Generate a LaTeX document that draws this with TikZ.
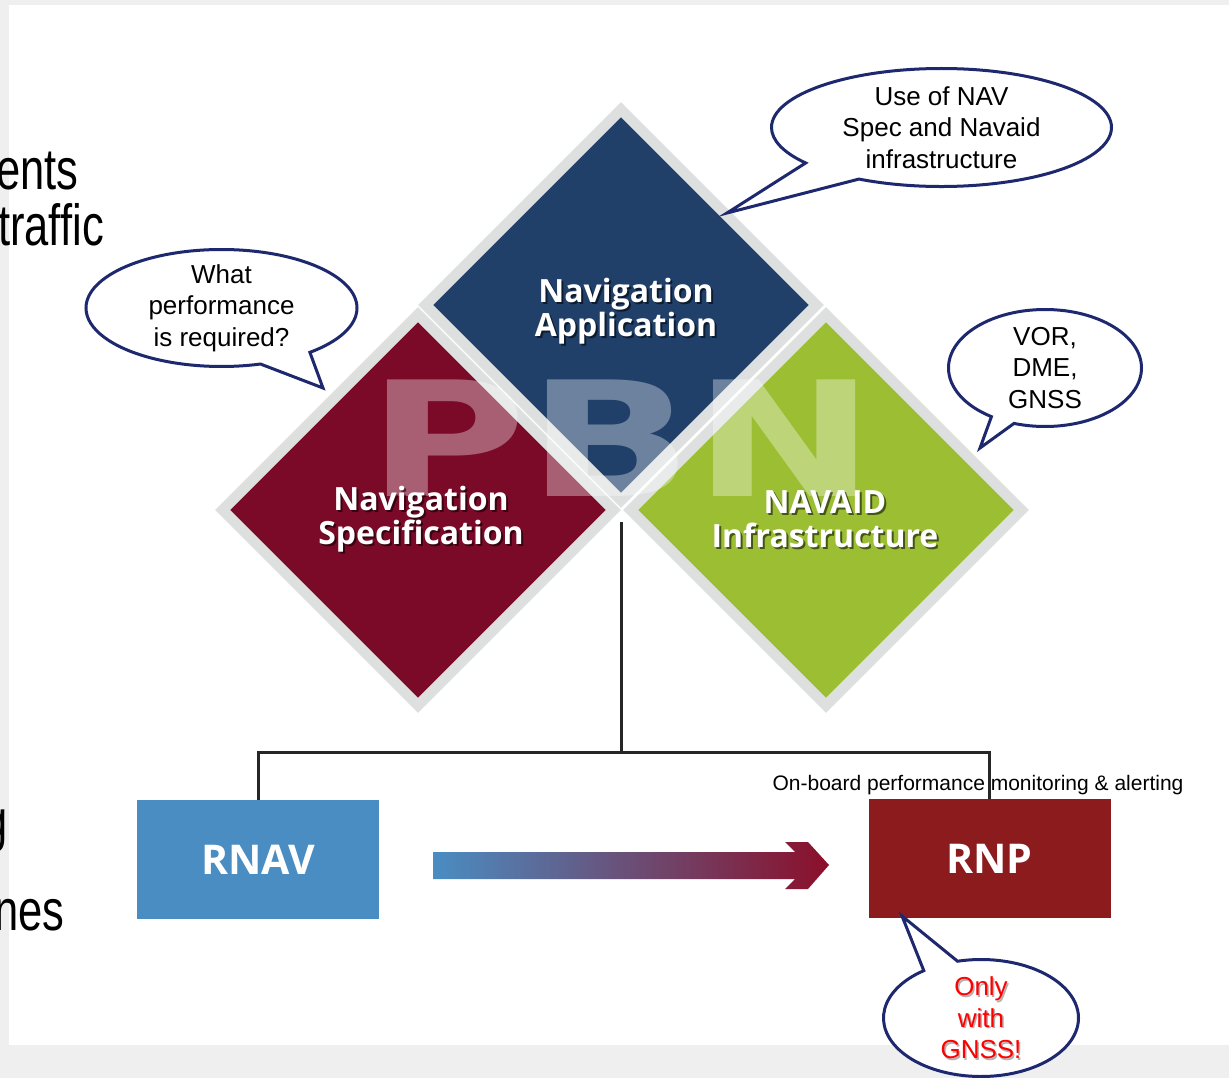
\documentclass[tikz,border=0pt]{standalone}
\usepackage{fontspec}
\setmainfont{Liberation Sans}
\newfontfamily\labelfont{Open Sans}
\newfontfamily\markfont{DejaVu Sans}
\usepackage{tikz}
\usetikzlibrary{calc, shapes.geometric, shapes.callouts}
\definecolor{pageGray}{HTML}{EFEFEF}
\definecolor{facetGray}{HTML}{DEE0E0}
\definecolor{appBlue}{HTML}{20406A}
\definecolor{specRed}{HTML}{7A0A28}
\definecolor{navaidGreen}{HTML}{9BBE32}
\definecolor{rnavBlue}{HTML}{4A8DC2}
\definecolor{rnpRed}{HTML}{8C1B1E}
\definecolor{arrowRed}{HTML}{8B0F2A}
\definecolor{calloutNavy}{HTML}{1E286E}
\definecolor{linkGray}{HTML}{262626}
\tikzset{
  facet/.style={diamond, minimum size=395, inner sep=0, draw=facetGray, line width=10.6},
  facettext/.style={text=white, align=center, inner sep=0, font=\labelfont\bfseries\fontsize{32}{34}\selectfont},
  box/.style={minimum width=242, minimum height=119, inner sep=0, text=white, font=\labelfont\bfseries\fontsize{41}{45}\selectfont},
  callout/.style={ellipse callout, draw=calloutNavy, fill=white, line width=3, inner sep=0, outer sep=0},
  note/.style={align=center, inner sep=0, font=\fontsize{26}{31.5}\selectfont},
  slidetext/.style={inner sep=0, font=\fontsize{58}{58}\selectfont},
  link/.style={draw=linkGray, line width=3}
}
\newcommand{\facetlabel}[3]{%
  \node[facettext, text=black, text opacity=.55] (#1shadow) at ($#2+(2,2)$) {#3};
  \node[facettext] (#1) at #2 {#3};}

\begin{document}
\begin{tikzpicture}[x=1pt, y=-1pt]
  \useasboundingbox (0,0) rectangle (1229,1078);
  \fill[pageGray] (0,0) rectangle (1229,1078);
  \fill[white] (9,5) rectangle (1229,1045);

  % slide text cut off at the left
  \node[slidetext, anchor=base west] (ents) at (-4,190) {\scalebox{.75}[1]{ents}};
  \node[slidetext, anchor=base west] (traffic) at (-2,246) {\scalebox{.75}[1]{traffic}};
  \node[slidetext, anchor=base east] (gtail) at (8,840) {\scalebox{.75}[1]{g}};
  \node[slidetext, anchor=base west] (nes) at (-6,930) {\scalebox{.75}[1]{nes}};

  % the three facets
  \node[facet, fill=appBlue] (app) at (621,305) {};
  \node[facet, fill=specRed] (spec) at (418,510) {};
  \node[facet, fill=navaidGreen] (navaid) at (826,510) {};
  \node[text=white, text opacity=.35, inner sep=0, font=\markfont\bfseries\fontsize{160}{160}\selectfont] (pbn) at (621.5,438) {\scalebox{1.36}[1]{PBN}};

  \facetlabel{applabel}{(626,311)}{Navigation\\Application}
  \facetlabel{speclabel}{(421,519)}{Navigation\\Specification}
  \facetlabel{navaidlabel}{(825,519)}{NAVAID\\Infrastructure}

  % boxes and tree
  \node[box, fill=rnavBlue] (rnav) at (258,859.5) {RNAV};
  \node[box, fill=rnpRed] (rnp) at (989.5,858.5) {RNP};
  \node[inner sep=0, font=\fontsize{21}{21}\selectfont] (monitor) at (978,785) {On-board performance monitoring \& alerting};

  \coordinate (hub) at (621,522);
  \coordinate (split) at (621,752);
  \draw[link] (hub) -- (split);
  \draw[link] (rnav.north) |- (split) -| (rnp.north);

  \shade[left color=rnavBlue, right color=arrowRed] (433,852) -- (795,852) -- (785,842) -- (808,842) -- (829,865) -- (808,889) -- (785,889) -- (795,879) -- (433,879) -- cycle;

  % callouts
  \node[callout, minimum width=340, minimum height=118, callout pointer arc=24, callout absolute pointer={(727,213)}] (usage) at (941.5,127.5) {};
  \node[note] (usagetext) at (usage.center) {Use of NAV\\Spec and Navaid\\infrastructure};

  \node[callout, minimum width=271, minimum height=117, callout pointer arc=24, callout absolute pointer={(323,388)}] (perf) at (221.5,308) {};
  \node[note] (perftext) at (perf.center) {What\\performance\\is required?};

  \node[callout, minimum width=193, minimum height=117, callout pointer arc=15, callout absolute pointer={(980,448)}] (aids) at (1045,368) {};
  \node[note] (aidstext) at (aids.center) {VOR,\\DME,\\GNSS};

  \node[callout, minimum width=195, minimum height=117, callout pointer arc=22, callout absolute pointer={(902,916)}] (gnss) at (981,1018) {};
  \node[note, text=gray!60] (gnssshadow) at ($(gnss.center)+(1.5,1.5)$) {Only\\with\\GNSS!};
  \node[note, text=red] (gnsstext) at (gnss.center) {Only\\with\\GNSS!};
\end{tikzpicture}
\end{document}
